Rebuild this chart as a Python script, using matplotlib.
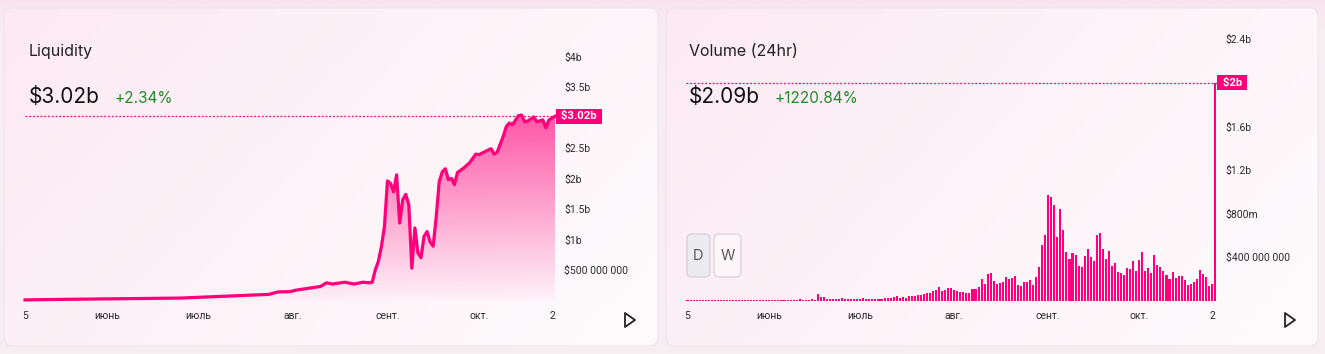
import numpy as np
import matplotlib
matplotlib.use("Agg")
import matplotlib.pyplot as plt
import matplotlib.transforms as mtransforms
from matplotlib.patches import FancyBboxPatch, Polygon

W, H = 1325, 354
PINK = "#ff007a"
GREEN = "#22892a"

# ---- data ----
# liquidity, $b, by day since 5 May
liq_days = [0, 15, 51, 80, 83, 87, 89, 97, 99, 101, 105, 108, 111, 113, 114,
            115, 116, 117, 118, 119, 120, 121, 122, 123, 124, 125, 126, 127,
            128, 129, 130, 131, 132, 133, 134, 135, 136, 137, 138, 139, 140,
            141, 142, 144, 146, 148, 149, 151, 153, 154, 155, 157, 158, 159,
            160, 162, 163, 164, 165, 167, 168, 170, 171, 172, 174]
liq_vals = [0.01, 0.02, 0.04, 0.10, 0.14, 0.145, 0.17, 0.23, 0.29, 0.27, 0.30,
            0.27, 0.30, 0.29, 0.30, 0.50, 0.64, 0.88, 1.21, 1.96, 1.92, 1.78,
            2.06, 1.27, 1.65, 1.74, 1.57, 0.53, 1.19, 0.78, 0.70, 1.05, 1.13,
            0.96, 0.89, 1.37, 1.95, 2.11, 2.16, 1.98, 2.00, 1.90, 2.10, 2.17,
            2.26, 2.40, 2.39, 2.44, 2.49, 2.40, 2.43, 2.69, 2.85, 2.91, 2.88,
            3.03, 3.04, 2.93, 2.94, 3.01, 2.93, 2.96, 2.83, 2.96, 3.02]
liq_now = 3.02
liq_ticks = [0.5, 1, 1.5, 2, 2.5, 3.5, 4]
liq_tick_labels = ["$500 000 000", "$1b", "$1.5b", "$2b", "$2.5b", "$3.5b", "$4b"]

# daily volume, $m
vol_m = [5, 5, 5, 5, 5, 5, 5, 5, 5, 5, 5, 5, 5, 5, 5, 5, 5, 5, 5, 5,
         5, 5, 5, 5, 5, 5, 5, 5, 5, 5, 5, 5, 5, 5, 5, 5, 5,
         12, 6, 6, 6, 12, 6, 62, 34, 34,
         15, 15, 15, 15, 15, 25, 15, 15, 15, 15, 15, 15, 25,
         15, 15, 15, 15, 15, 15, 25, 25, 25,
         34, 43, 25, 34, 25, 43, 43, 43, 52, 52, 62, 71, 71,
         89, 99, 126, 89, 99, 117, 117, 99, 89, 80,
         80, 71, 71, 108, 108, 126, 200, 154, 246, 256,
         182, 154, 163, 172, 219, 200, 209, 228, 145, 136,
         172, 172, 191, 145, 219, 311, 514, 598, 967, 949,
         875, 588, 838, 644, 450, 385, 440, 422, 320, 311,
         413, 477, 403, 367, 598, 625, 477, 385, 459, 320,
         348, 265, 256, 237, 302, 293, 367, 274, 376, 450,
         274, 302, 256, 422, 330, 311, 274, 237, 200, 265,
         209, 228, 228, 191, 145, 154, 172, 200, 283, 246,
         219, 136, 154, 2000]
vol_now = 2.0
vol_ticks = [0.4, 0.8, 1.2, 1.6, 2.4]
vol_tick_labels = ["$400 000 000", "$800m", "$1.2b", "$1.6b", "$2.4b"]

tick_days = [0, 27, 57, 88, 119, 149, 173]
tick_labels = ["5", "июнь", "июль", "авг.", "сент.", "окт.", "2"]

# ---- figure ----
fig = plt.figure(figsize=(W / 100, H / 100), dpi=100, facecolor="#f7eef2")
bg = fig.add_axes([0, 0, 1, 1])
bg.axis("off")

# pinkish glow along the top of the page
yy, xx = np.mgrid[0:1:40j, 0:1:200j]
glow = np.zeros((40, 200, 4))
glow[..., :3] = np.array([251, 226, 236]) / 255
glow[..., 3] = (1 - yy) * 0.9
bg.imshow(glow, extent=(0, W, 30, 0), aspect="auto", zorder=0.5,
          interpolation="bilinear")


def card(x0, y0, x1, y1):
    patch = FancyBboxPatch((x0, y0), x1 - x0, y1 - y0,
                           boxstyle="round,pad=0,rounding_size=9",
                           fc="none", ec="#f0e4ea", lw=0.8, zorder=2)
    bg.add_patch(patch)
    yy, xx = np.mgrid[0:1:60j, 0:1:120j]
    t = np.clip(0.75 * xx + 0.35 * yy, 0, 1)[..., None]
    c0 = np.array([252, 234, 242]) / 255
    c1 = np.array([254, 250, 252]) / 255
    img = c0 * (1 - t) + c1 * t
    im = bg.imshow(img, extent=(x0, x1, y1, y0), aspect="auto", zorder=1,
                   interpolation="bilinear")
    im.set_clip_path(patch)


card(4, 8, 658, 346)
card(666, 8, 1318, 346)
bg.set_xlim(0, W)
bg.set_ylim(H, 0)

# headers
for x, title, big, pct, px in [(29, "Liquidity", "$3.02b", "+2.34%", 115),
                               (689, "Volume (24hr)", "$2.09b", "+1220.84%", 775)]:
    bg.text(x, 56, title, fontsize=11.5, family="Inter", color="#222222", va="baseline")
    bg.text(x, 103, big, fontsize=15, family="Inter", color="#111111", va="baseline")
    bg.text(px, 103, pct, fontsize=11, family="Inter", color=GREEN, va="baseline")

# D / W buttons
for x0, x1, fc, ec, lab in [(687, 710, "#ecebf0", "#d6cfd9", "D"),
                            (714, 741, "#fdf6f9", "#ddd1da", "W")]:
    bg.add_patch(FancyBboxPatch((x0, 234), x1 - x0, 43,
                                boxstyle="round,pad=0,rounding_size=5",
                                fc=fc, ec=ec, lw=0.9, zorder=3))
    bg.text((x0 + x1) / 2, 256, lab, fontsize=10.5, family="Inter",
            color="#5a5a5a", ha="center", va="center", zorder=4)

# play icons
for cx in (630, 1290):
    bg.add_patch(Polygon([(cx - 5, 313), (cx + 5, 320), (cx - 5, 327)],
                         closed=True, fill=False, ec="#222222", lw=1.3,
                         joinstyle="round", zorder=3))


def px_axes(x0, y0, x1, y1):
    a = fig.add_axes([x0 / W, 1 - y1 / H, (x1 - x0) / W, (y1 - y0) / H])
    a.patch.set_alpha(0)
    for s in a.spines.values():
        s.set_visible(False)
    return a


def style_ticks(a, yt, ylab, ypad):
    a.yaxis.tick_right()
    a.set_yticks(yt)
    a.set_yticklabels(ylab)
    a.set_xticks(tick_days)
    a.set_xticklabels(tick_labels)
    a.tick_params(axis="y", length=0, pad=ypad, labelsize=7.5, labelcolor="#2a2a2a")
    a.tick_params(axis="x", length=0, pad=7.5, labelsize=7.5, labelcolor="#2a2a2a")
    for lab in a.get_xticklabels() + a.get_yticklabels():
        lab.set_family("Roboto")


def value_tag(a, val, text):
    trans = mtransforms.blended_transform_factory(a.transAxes, a.transData)
    a.annotate(" " + text + " ", xy=(1, val), xycoords=trans, xytext=(2.2, 0),
               textcoords="offset points", ha="left", va="center",
               color="white", fontsize=8.2, fontweight="bold", family="Roboto",
               bbox=dict(boxstyle="square,pad=0.22", fc=PINK, ec="none"),
               annotation_clip=False)


# ---- liquidity ----
ax1 = px_axes(25, 56.5, 555, 300.5)
poly = ax1.fill_between(liq_days, liq_vals, 0, color="none", lw=0)
ramp = np.zeros((256, 1, 4))
ramp[..., 0] = 1.0
ramp[..., 1] = 0.0
ramp[..., 2] = 0.48
ramp[:, 0, 3] = np.linspace(0.02, 0.66, 256)
grad = ax1.imshow(ramp, extent=(0, 174, 0, 3.1), origin="lower", aspect="auto",
                  interpolation="bilinear", zorder=1)
grad.set_clip_path(poly.get_paths()[0], ax1.transData)
ax1.plot(liq_days, liq_vals, color=PINK, lw=2.3, solid_joinstyle="round",
         clip_on=False, zorder=3)
ax1.axhline(liq_now, color=PINK, lw=0.9, ls=(0, (1.5, 1.5)), zorder=2)
ax1.set_xlim(0, 174)
ax1.set_ylim(0, 4)
style_ticks(ax1, liq_ticks, liq_tick_labels, 6.5)
value_tag(ax1, liq_now, "$3.02b")

# ---- volume ----
ax2 = px_axes(686, 39.3, 1216.5, 300.6)
ax2.bar(np.arange(len(vol_m)), np.array(vol_m) / 1000, width=0.68, color=PINK, lw=0)
ax2.axhline(vol_now, color=PINK, lw=0.9, ls=(0, (1.5, 1.5)), zorder=2)
ax2.set_xlim(-0.5, len(vol_m) - 0.5)
ax2.set_ylim(0, 2.4)
style_ticks(ax2, vol_ticks, vol_tick_labels, 6.5)
value_tag(ax2, vol_now, "$2b")

fig.savefig("out.png", dpi=100, facecolor=fig.get_facecolor())
